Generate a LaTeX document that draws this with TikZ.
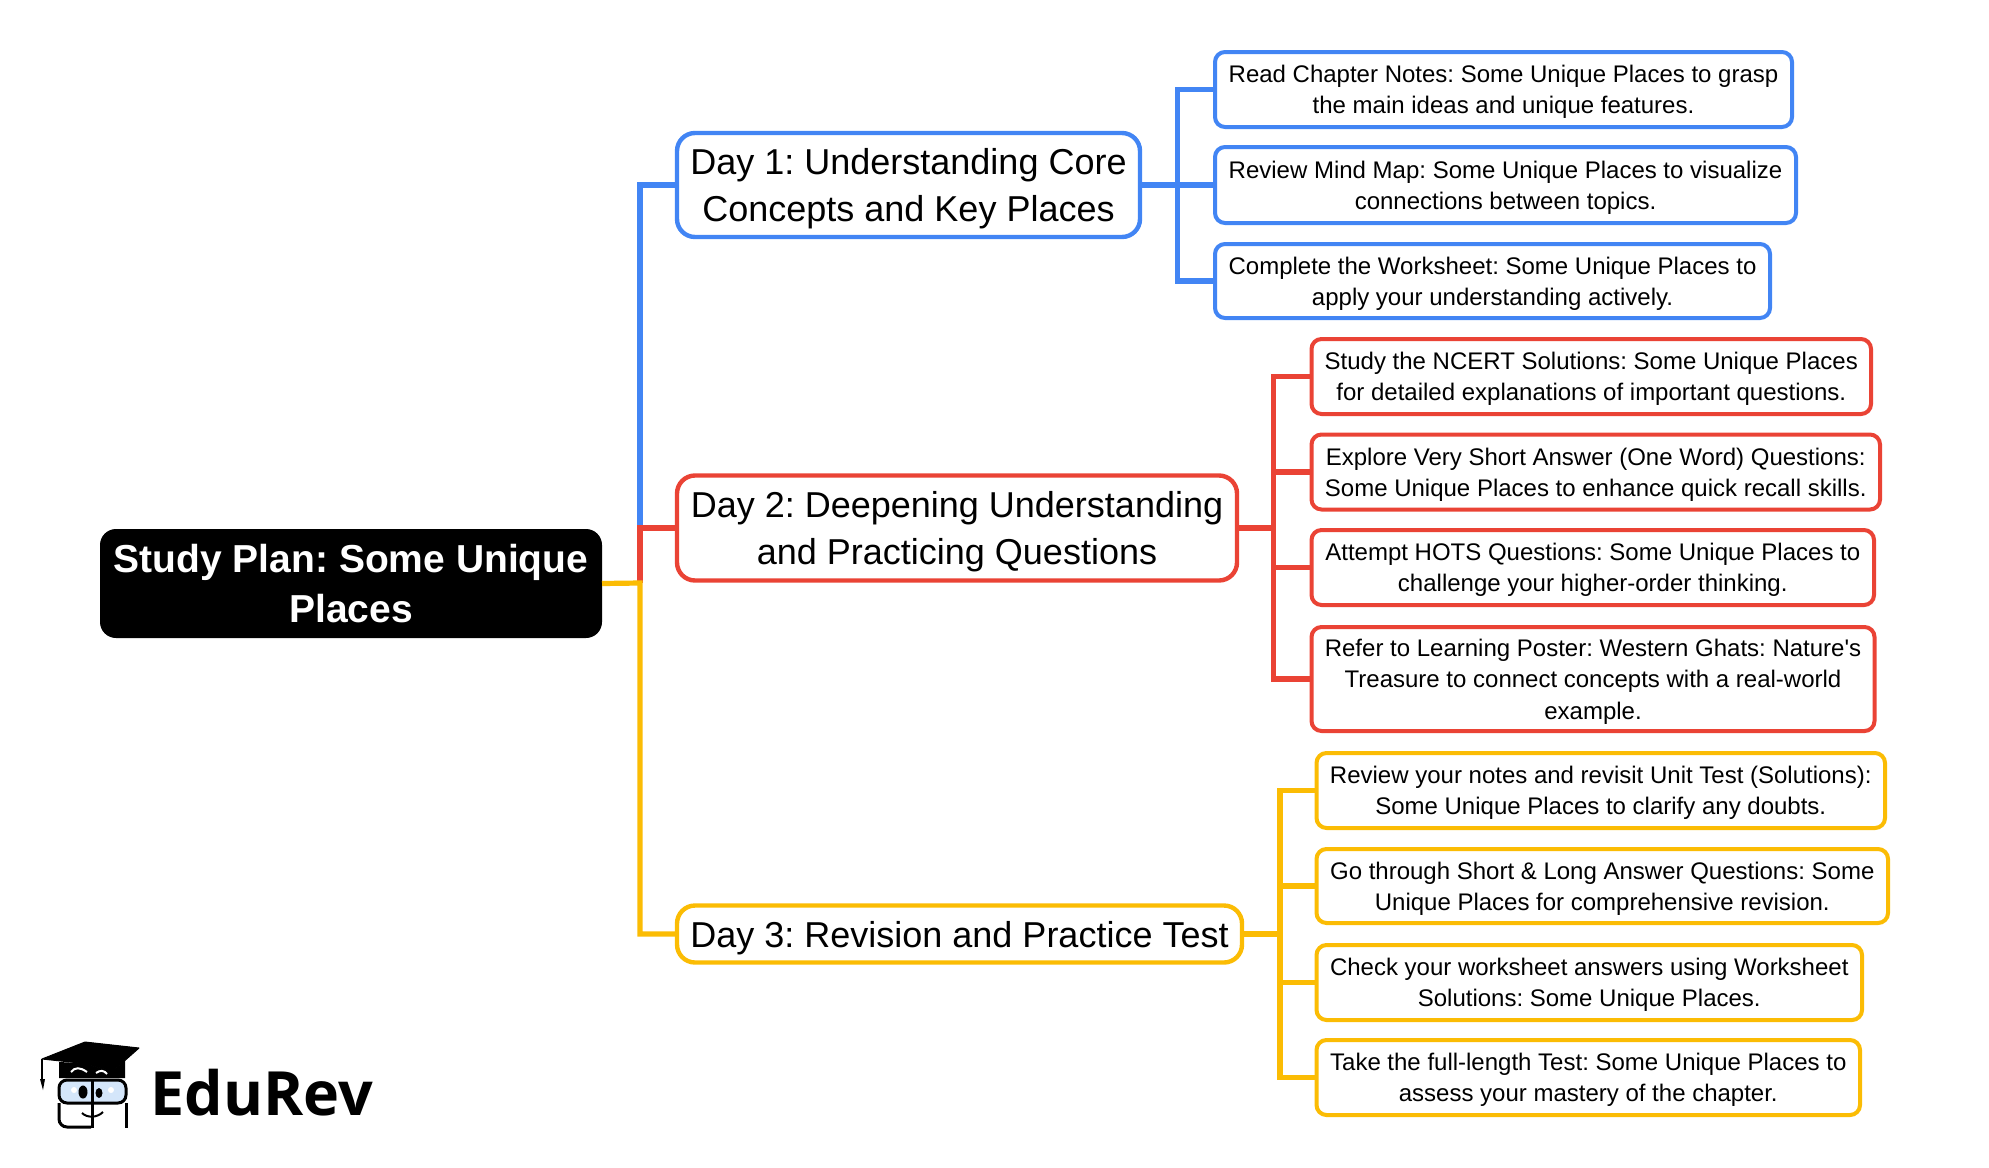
\documentclass[tikz,border=0pt]{standalone}
\usepackage{fontspec}
\setmainfont{Liberation Sans}
\newfontfamily\logofont{Open Sans}
\definecolor{dayblue}{HTML}{4285F4}
\definecolor{dayred}{HTML}{EA4335}
\definecolor{dayyellow}{HTML}{FBBC04}
\definecolor{glassblue}{HTML}{D4E6FA}
\newcommand{\topline}{\rule{0pt}{0.94em}}
\tikzset{
    rootbox/.style={fill=black,text=white,rounded corners=8pt,align=center,anchor=west,outer sep=0pt,inner sep=0pt,
        font=\fontsize{19.5}{25.4}\selectfont\bfseries\frenchspacing},
    daybox/.style={draw=#1,line width=2.2pt,fill=white,rounded corners=9pt,align=center,anchor=west,outer sep=0pt,inner sep=0pt,
        font=\fontsize{18}{23.5}\selectfont\frenchspacing},
    leafbox/.style={draw=#1,line width=2pt,fill=white,rounded corners=5pt,align=center,anchor=west,outer sep=0pt,inner sep=0pt,
        font=\fontsize{12}{15.65}\selectfont\frenchspacing},
    daylink/.style={draw=#1,line width=2.6pt},
    leaflink/.style={draw=#1,line width=2.6pt}
}
\begin{document}
\begin{tikzpicture}[x=0.5pt,y=-0.5pt]
    \useasboundingbox (0,0) rectangle (1989,1167);

    % free corners of the links
    \coordinate (bluebus) at (1177.5,185);
    \coordinate (redbus) at (1273.5,528);
    \coordinate (yellowbus) at (1280,934);
    \coordinate (mainblue) at (640,528);
    \coordinate (mainyellow) at (640,583);

    % root and days
    \node[rootbox,minimum width=251pt,minimum height=54.5pt] (root) at (100,583.5) {Study Plan: Some Unique\\Places};
    \node[daybox=dayblue,minimum width=231.5pt,minimum height=52pt] (day1) at (677,185) {\topline Day 1: Understanding Core\\Concepts and Key Places};
    \node[daybox=dayred,minimum width=280pt,minimum height=52.5pt] (day2) at (677,528) {\topline Day 2: Deepening Understanding\\and Practicing Questions};
    \node[daybox=dayyellow,minimum width=282.5pt,minimum height=28.5pt] (day3) at (677,934) {\topline Day 3: Revision and Practice Test};

    % day 1
    \node[leafbox=dayblue,minimum width=288.5pt,minimum height=37.5pt] (blue1) at (1215,89.5) {\topline Read Chapter Notes: Some Unique Places to grasp\\the main ideas and unique features.};
    \node[leafbox=dayblue,minimum width=290.5pt,minimum height=38pt] (blue2) at (1215,185) {\topline Review Mind Map: Some Unique Places to visualize\\connections between topics.};
    \node[leafbox=dayblue,minimum width=277.5pt,minimum height=37pt] (blue3) at (1215,281) {\topline Complete the Worksheet: Some Unique Places to\\apply your understanding actively.};

    % day 2
    \node[leafbox=dayred,minimum width=279.75pt,minimum height=37.5pt] (red1) at (1311.5,376.5) {\topline Study the NCERT Solutions: Some Unique Places\\for detailed explanations of important questions.};
    \node[leafbox=dayred,minimum width=284.25pt,minimum height=37.5pt] (red2) at (1311.5,472) {\topline Explore Very Short Answer (One Word) Questions:\\Some Unique Places to enhance quick recall skills.};
    \node[leafbox=dayred,minimum width=281.25pt,minimum height=37.5pt] (red3) at (1311.5,567.5) {\topline Attempt HOTS Questions: Some Unique Places to\\challenge your higher-order thinking.};
    \node[leafbox=dayred,minimum width=281.5pt,minimum height=52pt] (red4) at (1311.5,679) {\topline Refer to Learning Poster: Western Ghats: Nature\textquotesingle s\\Treasure to connect concepts with a real-world\\example.};

    % day 3
    \node[leafbox=dayyellow,minimum width=284.25pt,minimum height=37.5pt] (yellow1) at (1316.5,790.5) {\topline Review your notes and revisit Unit Test (Solutions):\\Some Unique Places to clarify any doubts.};
    \node[leafbox=dayyellow,minimum width=285.75pt,minimum height=37pt] (yellow2) at (1316.5,886) {\topline Go through Short \& Long Answer Questions: Some\\Unique Places for comprehensive revision.};
    \node[leafbox=dayyellow,minimum width=272.75pt,minimum height=37.5pt] (yellow3) at (1316.5,982.5) {\topline Check your worksheet answers using Worksheet\\Solutions: Some Unique Places.};
    \node[leafbox=dayyellow,minimum width=271.75pt,minimum height=37.5pt] (yellow4) at (1316.5,1077.5) {\topline Take the full-length Test: Some Unique Places to\\assess your mastery of the chapter.};

    % links
    \draw[daylink=dayblue] (mainblue) |- (day1.west);
    \draw[daylink=dayred] (mainyellow) -- (mainblue) -- (day2.west);
    \draw[daylink=dayyellow] (root.east) -- (mainyellow) |- (day3.west);
    \draw[leaflink=dayblue] (day1.east) -- (bluebus) |- (blue1.west);
    \draw[leaflink=dayblue] (bluebus) -- (blue2.west);
    \draw[leaflink=dayblue] (bluebus) |- (blue3.west);
    \draw[leaflink=dayred] (day2.east) -- (redbus);
    \foreach \leaf in {red1,red2,red3,red4}{
        \draw[leaflink=dayred] (redbus) |- (\leaf.west);
    }
    \draw[leaflink=dayyellow] (day3.east) -- (yellowbus);
    \foreach \leaf in {yellow1,yellow2,yellow3,yellow4}{
        \draw[leaflink=dayyellow] (yellowbus) |- (\leaf.west);
    }

    % logo
    \filldraw[black,line width=0.5pt,line join=round] (42,1059) -- (85,1042) -- (139,1048) -- (113,1071) -- (80,1063) -- cycle;
    \fill[black] (59,1062) -- (80,1063) -- (113,1071) -- (125,1060) -- (125,1078) -- (59,1078) -- cycle;
    \draw[white,line width=1pt] (71,1072) .. controls (75,1067) and (80,1067) .. (87,1072);
    \draw[white,line width=1pt] (96,1073) .. controls (100,1070) and (104,1070) .. (107,1074);
    \draw[black,line width=1pt] (42,1059) -- (42,1079);
    \fill[black] (40,1079) -- (45,1079) -- (43,1090) -- cycle;
    \draw[black,line width=1.5pt,fill=glassblue,rounded corners=4pt] (59,1080) rectangle (126,1103);
    \fill[white] (74,1090) circle [radius=3];
    \fill[white] (111,1090) circle [radius=3];
    \draw[black,line width=1.5pt,rounded corners=4pt] (59,1103) -- (59,1127) -- (91,1127);
    \draw[black,line width=1.5pt,rounded corners=4pt] (126,1103) -- (126,1128);
    \draw[black,line width=1.5pt] (92,1079) -- (92,1128);
    \fill[black] (83,1092) ellipse [x radius=4.5,y radius=6.5];
    \fill[black] (99,1093) ellipse [x radius=3.5,y radius=5];
    \draw[black,line width=1pt] (82,1113) .. controls (87,1118) and (97,1118) .. (103,1112);

    \node[font=\logofont\bfseries\fontsize{30.5}{33}\selectfont,anchor=base west,inner sep=0pt] (edurev) at (150,1115) {EduRev};
\end{tikzpicture}
\end{document}
